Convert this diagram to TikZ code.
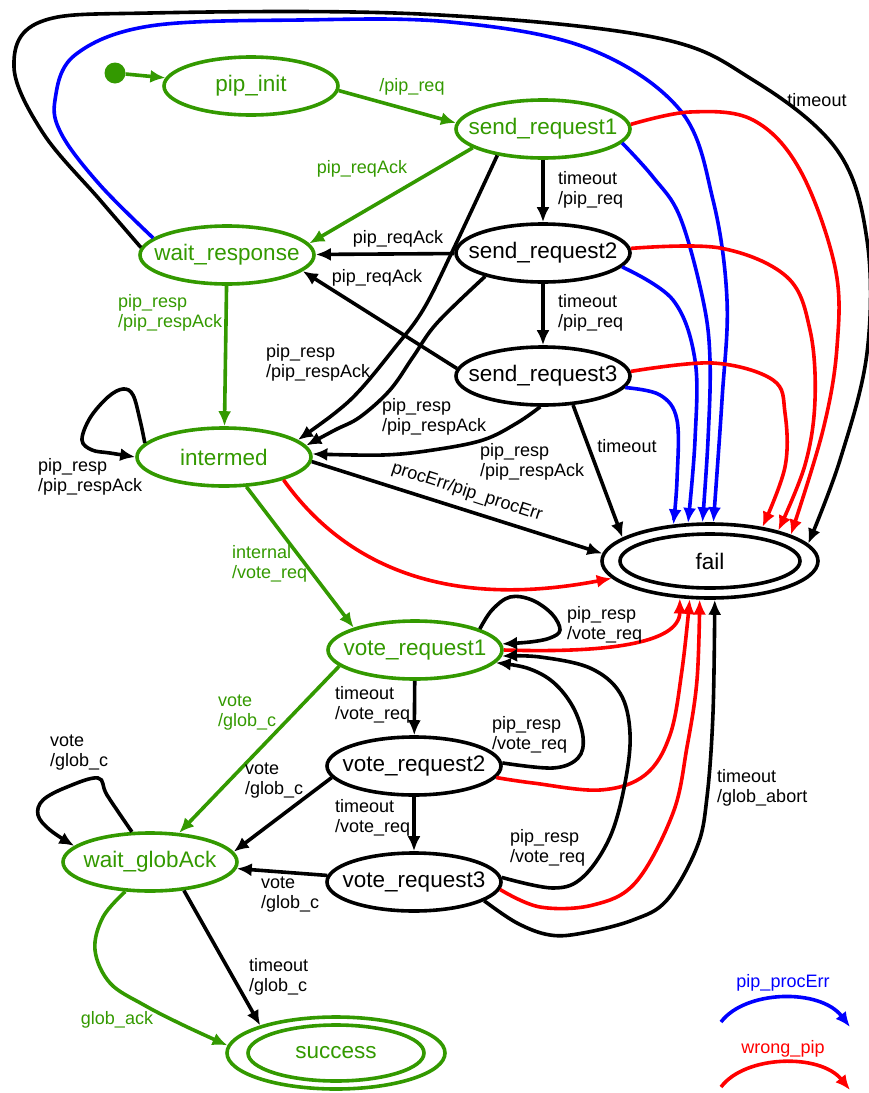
\documentclass[tikz,border=0pt]{standalone}
\usepackage{fontspec}
\setmainfont{Liberation Sans}
\usetikzlibrary{shapes.geometric,arrows.meta}
\definecolor{gr}{RGB}{51,153,0}
\definecolor{bl}{RGB}{0,0,255}
\definecolor{rd}{RGB}{255,0,0}
\newcommand{\zb}[1]{\makebox[0pt]{#1}}
\begin{document}
\begin{tikzpicture}[x=1pt,y=-1pt,
  every node/.style={font=\fontsize{18}{20}\selectfont},
  state/.style={ellipse, draw, line width=3.6pt, minimum width=174pt, minimum height=58pt, inner sep=0pt, font=\fontsize{22.5}{24}\selectfont},
  arr/.style={line width=3.6pt, -{Latex[length=15pt,width=13pt]}},
  garr/.style={arr, draw=gr},
  lab/.style={inner sep=0pt, align=left, anchor=west},
  clab/.style={inner sep=0pt},
  sm/.style={smooth, tension=0.6}
]
\useasboundingbox (0,0) rectangle (869,1093);

% states
\node[circle, fill=gr, inner sep=0pt, minimum size=21pt] (start) at (115,73) {};
\node[state, draw=gr, text=gr] (pinit) at (251,86) {\zb{pip\_init}};
\node[state, draw=gr, text=gr] (sr1) at (543,129) {\zb{send\_request1}};
\node[state] (sr2) at (543,253) {\zb{send\_request2}};
\node[state] (sr3) at (543,376) {\zb{send\_request3}};
\node[state, draw=gr, text=gr] (wr) at (227,255) {\zb{wait\_response}};
\node[state, draw=gr, text=gr] (inter) at (224,457) {\zb{intermed}};
\node[state, minimum width=216pt, minimum height=74pt] (fail) at (710,561) {};
\node[state, minimum width=180pt, minimum height=54pt] (failin) at (710,561) {\zb{fail}};
\node[state, draw=gr, text=gr] (vr1) at (415,650) {\zb{vote\_request1}};
\node[state] (vr2) at (414,766) {\zb{vote\_request2}};
\node[state] (vr3) at (414,882) {\zb{vote\_request3}};
\node[state, draw=gr, text=gr] (wga) at (150,862) {\zb{wait\_globAck}};
\node[state, draw=gr, minimum width=218pt, minimum height=72pt] (succ) at (336,1053) {};
\node[state, draw=gr, text=gr, minimum width=176pt, minimum height=56pt] (succin) at (336,1053) {\zb{success}};

% green transitions
\draw[garr] (start) -- (pinit);
\draw[garr] (pinit.-3) -- (sr1.176);
\draw[garr] (sr1.-165) -- (wr.8);
\draw[garr] (wr) -- (inter);
\draw[garr] (inter.-53) -- (vr1.160);
\draw[garr] (vr1.-168) -- (wga.45);
\draw[garr] plot[sm] coordinates {(wga.-130) (103,917) (95,950) (110,983) (144,1005) (183,1025) (succ.176)};

% black transitions, upper part
\draw[arr] (sr1) -- (sr2);
\draw[arr] (sr2) -- (sr3);
\draw[arr] (sr2) -- (wr);
\draw[arr] (sr3.175) -- (wr.-12);
\draw[arr] plot[sm] coordinates {(sr1.-150) (453,250) (423,310) (393,350) (360,390) (335,413) (inter.13)};
\draw[arr] plot[sm] coordinates {(sr2.-158) (437,323) (413,357) (390,390) (360,417) (335,430) (inter.8)};
\draw[arr] plot[sm] coordinates {(sr3.-95) (517,423) (483,440) (433,450) (383,455) (inter.2)};
\draw[arr] plot[sm] coordinates {(inter.170) (140,420) (133,395) (123,389) (108,397) (90,418) (82,440) (92,450) (110,453) (inter.180)};
\draw[arr] (sr3.-44) -- (fail.165);
\draw[arr] (inter.-3) -- (fail.176);
\draw[arr] plot[sm] coordinates {(wr.175) (100,200) (43,133) (14,67) (40,22) (150,13) (420,14) (653,37) (753,80) (837,150) (867,240) (867,353) (840,460) (fail.10)};

% blue transitions
\draw[arr, bl] plot[sm] coordinates {(wr.167) (100,185) (62,135) (55,100) (75,55) (150,26) (300,20) (450,22) (587,48) (680,110) (713,200) (727,300) (722,400) (fail.85)};
\draw[arr, bl] plot[sm] coordinates {(sr1.-10) (653,177) (680,217) (703,300) (710,360) (708,440) (fail.101)};
\draw[arr, bl] plot[sm] coordinates {(sr2.-10) (673,300) (695,360) (695,440) (fail.120)};
\draw[arr, bl] plot[sm] coordinates {(sr3.-8) (660,395) (677,420) (677,480) (fail.135)};

% red transitions
\draw[arr, rd] plot[sm] coordinates {(sr1.3) (690,112) (753,120) (800,170) (835,267) (837,347) (823,430) (fail.18)};
\draw[arr, rd] plot[sm] coordinates {(sr2.3) (720,248) (787,277) (810,330) (815,400) (805,465) (fail.24)};
\draw[arr, rd] plot[sm] coordinates {(sr3.3) (713,363) (773,380) (785,413) (785,467) (fail.33)};
\draw[arr, rd] (inter.-21) .. controls (330,545) and (420,615) .. (fail.190);
\draw[arr, rd] (vr1.0) .. controls (600,653) and (680,645) .. (fail.231);
\draw[arr, rd] plot[sm] coordinates {(vr2.-8) (533,783) (600,790) (645,775) (670,735) (682,670) (fail.242)};
\draw[arr, rd] plot[sm] coordinates {(vr3.-5) (540,907) (593,905) (636,882) (673,813) (687,747) (697,680) (fail.255)};

% black transitions, lower part
\draw[arr] (vr1) -- (vr2);
\draw[arr] (vr2) -- (vr3);
\draw[arr] (vr2.-172) -- (wga.7);
\draw[arr] (vr3) -- (wga);
\draw[arr] (wga.-40) -- (succ.160);
\draw[arr] plot[sm] coordinates {(wga.121) (107,795) (98,778) (67,787) (43,800) (38,815) (50,830) (wga.168)};
\draw[arr] plot[sm] coordinates {(vr1.18) (492,610) (510,597) (532,600) (552,614) (560,630) (550,638) (530,642) (vr1.4)};
\draw[arr] plot[sm] coordinates {(vr2.2) (553,768) (578,758) (583,737) (573,707) (553,682) (527,668) (vr1.-9)};
\draw[arr] plot[sm] coordinates {(vr3.3) (553,888) (583,877) (610,837) (625,783) (630,733) (620,693) (590,668) (540,657) (vr1.-4)};
\draw[arr] plot[sm] coordinates {(vr3.-15) (517,923) (550,935) (583,933) (633,920) (667,900) (697,847) (707,797) (713,713) (fail.277)};

% labels
\node[clab, text=gr] (l1) at (412,87) {/pip\_req};
\node[clab, text=gr] (l2) at (362,169) {pip\_reqAck};
\node[lab] (l3) at (558,190) {timeout\\/pip\_req};
\node[lab] (l4) at (558,313) {timeout\\/pip\_req};
\node[clab] (l5) at (398,239) {pip\_reqAck};
\node[clab] (l6) at (377,278) {pip\_reqAck};
\node[lab] (l7) at (266,363) {pip\_resp\\/pip\_respAck};
\node[lab] (l8) at (382,417) {pip\_resp\\/pip\_respAck};
\node[lab] (l9) at (480,462) {pip\_resp\\/pip\_respAck};
\node[clab] (l10) at (627,446) {timeout};
\node[clab] (l11) at (817,100) {timeout};
\node[clab, rotate=-18] (l12) at (467,492) {procErr/pip\_procErr};
\node[lab, text=gr] (l13) at (118,313) {pip\_resp\\/pip\_respAck};
\node[lab] (l14) at (38,477) {pip\_resp\\/pip\_respAck};
\node[lab, text=gr] (l15) at (232,564) {internal\\/vote\_req};
\node[lab] (l16) at (567,625) {pip\_resp\\/vote\_req};
\node[lab] (l17) at (335,705) {timeout\\/vote\_req};
\node[lab, text=gr] (l18) at (218,713) {vote\\/glob\_c};
\node[lab] (l19) at (492,735) {pip\_resp\\/vote\_req};
\node[lab] (l20) at (245,781) {vote\\/glob\_c};
\node[lab] (l21) at (335,818) {timeout\\/vote\_req};
\node[lab] (l22) at (510,848) {pip\_resp\\/vote\_req};
\node[lab] (l23) at (717,788) {timeout\\/glob\_abort};
\node[lab] (l24) at (50,753) {vote\\/glob\_c};
\node[lab] (l25) at (261,895) {vote\\/glob\_c};
\node[lab] (l26) at (249,977) {timeout\\/glob\_c};
\node[clab, text=gr] (l27) at (117,1020) {glob\_ack};

% legend
\node[clab, text=bl] (lg1) at (783,983) {pip\_procErr};
\node[clab, text=rd] (lg2) at (783,1049) {wrong\_pip};
\coordinate (lb1) at (721,1022);
\coordinate (lb2) at (850,1027);
\coordinate (lr1) at (721,1087);
\coordinate (lr2) at (850,1090);
\draw[arr, bl] (lb1) .. controls (745,990) and (820,988) .. (lb2);
\draw[arr, rd] (lr1) .. controls (745,1055) and (820,1053) .. (lr2);
\end{tikzpicture}
\end{document}
